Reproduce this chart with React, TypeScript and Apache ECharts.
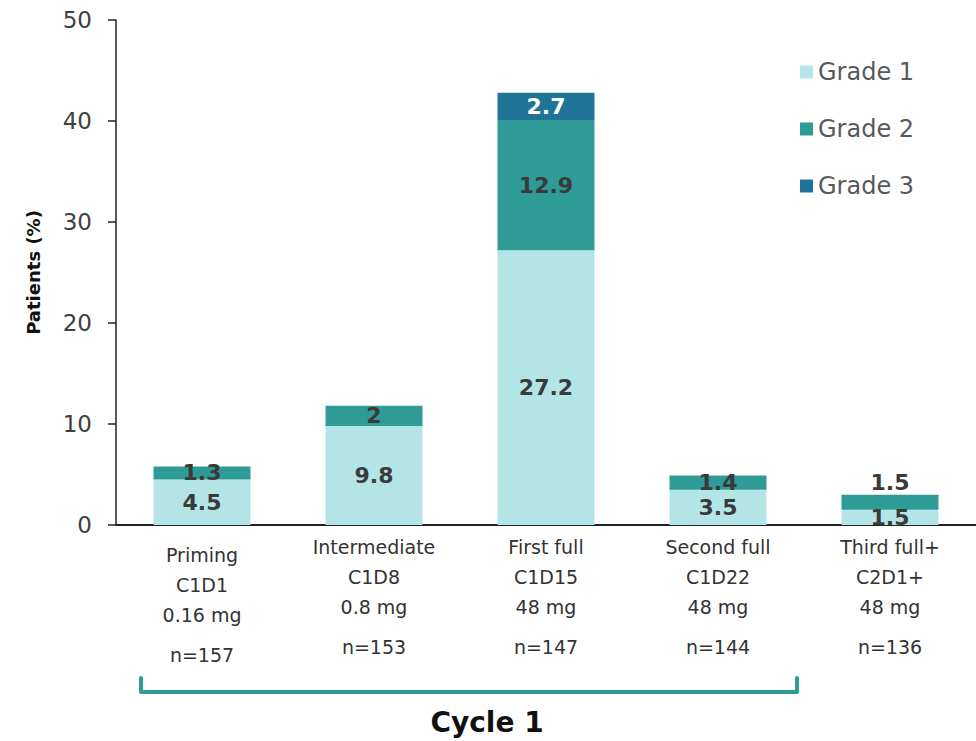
import React, { useEffect, useRef } from "react";
import * as echarts from "echarts";

const phases = ["Priming", "Intermediate", "First full", "Second full", "Third full+"];
const visits = ["C1D1", "C1D8", "C1D15", "C1D22", "C2D1+"];
const doses = ["0.16 mg", "0.8 mg", "48 mg", "48 mg", "48 mg"];
const nValues = [157, 153, 147, 144, 136];

const grade1 = [4.5, 9.8, 27.2, 3.5, 1.5];
const grade2 = [1.3, 2, 12.9, 1.4, 1.5];
const grade3 = [null, null, 2.7, null, null];

const yTicks = [0, 10, 20, 30, 40, 50];

const FONT = "DejaVu Sans";

export default function App() {
  const ref = useRef<HTMLDivElement>(null);
  useEffect(() => {
    document.body.style.margin = "0";
    const chart = echarts.init(ref.current!, null, { renderer: "svg" });
    const labelBase = {
      show: true,
      position: "inside",
      fontFamily: FONT,
      fontWeight: "bold",
      fontSize: 22,
      color: "#3a3a3a",
    };
    chart.setOption({
      animation: false,
      grid: { left: 116, top: 20, width: 864, height: 505 },
      legend: {
        orient: "vertical",
        left: 795,
        top: 55,
        itemWidth: 13,
        itemHeight: 13,
        itemGap: 33,
        icon: "rect",
        textStyle: { fontFamily: FONT, fontSize: 24, color: "#595959" },
        data: ["Grade 1", "Grade 2", "Grade 3"],
      },
      xAxis: {
        type: "category",
        data: phases.map((p, i) =>
          i === 0 ? { value: p, textStyle: { padding: [8, 0, 0, 0] } } : p
        ),
        axisLine: { lineStyle: { color: "#222", width: 2 } },
        axisTick: { show: false },
        axisLabel: {
          margin: 7,
          interval: 0,
          fontFamily: FONT,
          fontSize: 20,
          color: "#333",
          formatter: (v: string) => {
            const i = phases.indexOf(v);
            return `{a|${v}}\n{a|${visits[i]}}\n{a|${doses[i]}}\n{b|n=${nValues[i]}}`;
          },
          rich: {
            a: { fontFamily: FONT, fontSize: 19, color: "#333", lineHeight: 30 },
            b: { fontFamily: FONT, fontSize: 19, color: "#333", lineHeight: 50 },
          },
        },
      },
      yAxis: {
        type: "value",
        min: 0,
        max: 50,
        interval: 10,
        name: "Patients (%)",
        nameLocation: "middle",
        nameGap: 74,
        nameTextStyle: { fontFamily: FONT, fontSize: 18, fontWeight: "bold", color: "#111" },
        axisLine: { show: true, lineStyle: { color: "#222", width: 1.5 } },
        axisTick: { show: true, length: 8, lineStyle: { color: "#222", width: 1.5 } },
        splitLine: { show: false },
        axisLabel: {
          margin: 24,
          fontFamily: FONT,
          fontSize: 23,
          color: "#404040",
          formatter: (v: number) => (yTicks.includes(v) ? String(v) : ""),
        },
      },
      series: [
        {
          name: "Grade 1",
          type: "bar",
          stack: "g",
          barWidth: 97,
          itemStyle: { color: "#b3e5e6" },
          label: labelBase,
          data: grade1,
        },
        {
          name: "Grade 2",
          type: "bar",
          stack: "g",
          barWidth: 97,
          itemStyle: { color: "#2e9b96" },
          label: labelBase,
          data: grade2.map((v, i) =>
            i === 4 ? { value: v, label: { position: "top", distance: 1 } } : v
          ),
        },
        {
          name: "Grade 3",
          type: "bar",
          stack: "g",
          barWidth: 97,
          itemStyle: { color: "#207497" },
          label: { ...labelBase, color: "#ffffff" },
          data: grade3,
        },
      ],
      graphic: [
        {
          type: "polyline",
          shape: { points: [[141, 678], [141, 692], [797, 692], [797, 678]] },
          style: { stroke: "#2e9b96", lineWidth: 4, fill: null, lineCap: "round", lineJoin: "round" },
        },
        {
          type: "text",
          x: 487,
          y: 722,
          style: {
            text: "Cycle 1",
            fontFamily: FONT,
            fontSize: 28,
            fontWeight: "bold",
            fill: "#111",
            align: "center",
            verticalAlign: "middle",
          },
        },
      ],
    });
    return () => chart.dispose();
  }, []);
  return <div ref={ref} style={{ width: 976, height: 741 }} />;
}
